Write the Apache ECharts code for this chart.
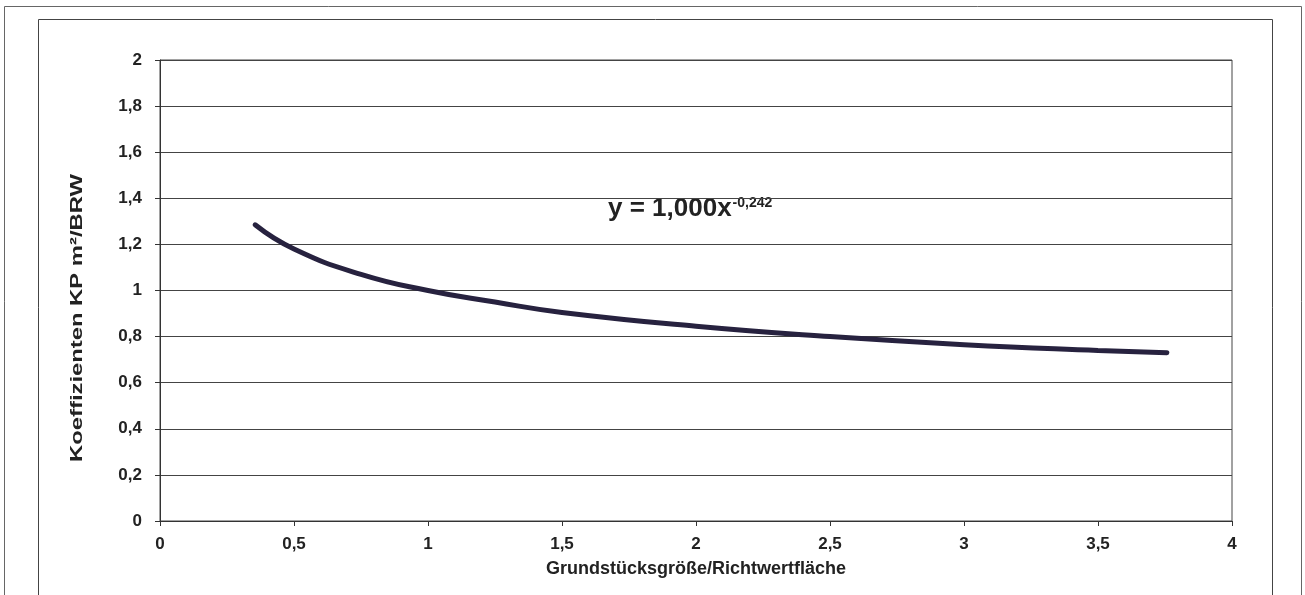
<!DOCTYPE html>
<html>
<head>
<meta charset="utf-8">
<script src="https://cdn.jsdelivr.net/npm/echarts@6/dist/echarts.min.js"></script>
<style>
  html, body { margin: 0; padding: 0; background: #fff; }
  #chart { width: 1305px; height: 595px; }
</style>
</head>
<body>
<div id="chart"></div>
<script>
// points (x = Grundstücksgröße/Richtwertfläche, y = Koeffizient)
const curveX = [0.355, 0.5, 0.75, 1, 1.25, 1.5, 2, 2.5, 3, 3.5, 3.757];
const curveY = [1.285, 1.18, 1.07, 1.0, 0.95, 0.905, 0.845, 0.8, 0.765, 0.74, 0.73];

const xName = "Grundstücksgröße/Richtwertfläche";
const yName = "Koeffizienten KP m²/BRW";
const eqMain = "y = 1,000x";
const eqExp = "-0,242";

const comma = (v) => String(v).replace(".", ",");

let chart = echarts.init(document.getElementById("chart"), null, { renderer: "canvas" });

let font = "'Liberation Sans', Arial, sans-serif";

let option = {
  animation: false,
  backgroundColor: "#fff",
  grid: {
    left: 160,
    right: 73,
    top: 60,
    bottom: 74,
    show: true,
    borderColor: "#444",
    borderWidth: 1
  },
  xAxis: {
    type: "value",
    min: 0,
    max: 4,
    interval: 0.5,
    name: xName,
    nameLocation: "middle",
    nameGap: 39,
    nameTextStyle: { fontFamily: font, fontWeight: "bold", fontSize: 18, color: "#222" },
    axisLine: { lineStyle: { color: "#333", width: 1 } },
    axisTick: { show: true, length: 5, lineStyle: { color: "#333" } },
    axisLabel: { formatter: comma, margin: 15, fontFamily: font, fontWeight: "bold", fontSize: 17, color: "#222" },
    splitLine: { show: false }
  },
  yAxis: {
    type: "value",
    min: 0,
    max: 2,
    interval: 0.2,
    axisLine: { show: true, lineStyle: { color: "#333", width: 1 } },
    axisTick: { show: true, length: 5, lineStyle: { color: "#333" } },
    axisLabel: {
      formatter: (v) => comma(Math.round(v * 10) / 10),
      margin: 18, fontFamily: font, fontWeight: "bold", fontSize: 17, color: "#222"
    },
    splitLine: { show: true, lineStyle: { color: "#444", width: 1 } }
  },
  series: [
    {
      type: "line",
      data: curveX.map((x, i) => [x, curveY[i]]),
      smooth: true,
      showSymbol: false,
      lineStyle: { color: "#27223f", width: 5, cap: "round" }
    }
  ],
  graphic: [
    {
      type: "rect",
      shape: { x: 4.5, y: 6.5, width: 1297, height: 600 },
      style: { fill: null, stroke: "#666", lineWidth: 1 },
      silent: true
    },
    {
      type: "rect",
      shape: { x: 38.5, y: 19.5, width: 1234, height: 600 },
      style: { fill: null, stroke: "#444", lineWidth: 1 },
      silent: true
    },
    {
      // y axis title, stretched along its length like the scan
      type: "text",
      x: 77,
      y: 318,
      rotation: Math.PI / 2,
      scaleX: 1.4,
      style: {
        text: yName,
        font: "bold 17px " + font,
        fill: "#222",
        textAlign: "center",
        textVerticalAlign: "middle"
      }
    },
    {
      // trend line equation with superscript exponent
      type: "text",
      x: 608,
      y: 209,
      style: {
        text: "{b|" + eqMain + "}{s|" + eqExp + "}",
        textAlign: "left",
        textVerticalAlign: "middle",
        rich: {
          b: { fontFamily: font, fontWeight: "bold", fontSize: 26, fill: "#222", verticalAlign: "bottom" },
          s: { fontFamily: font, fontWeight: "bold", fontSize: 14, fill: "#222", verticalAlign: "top", padding: [0, 0, 0, 1] }
        }
      }
    }
  ]
};

chart.setOption(option);
window.addEventListener("resize", chart.resize);
</script>
</body>
</html>
